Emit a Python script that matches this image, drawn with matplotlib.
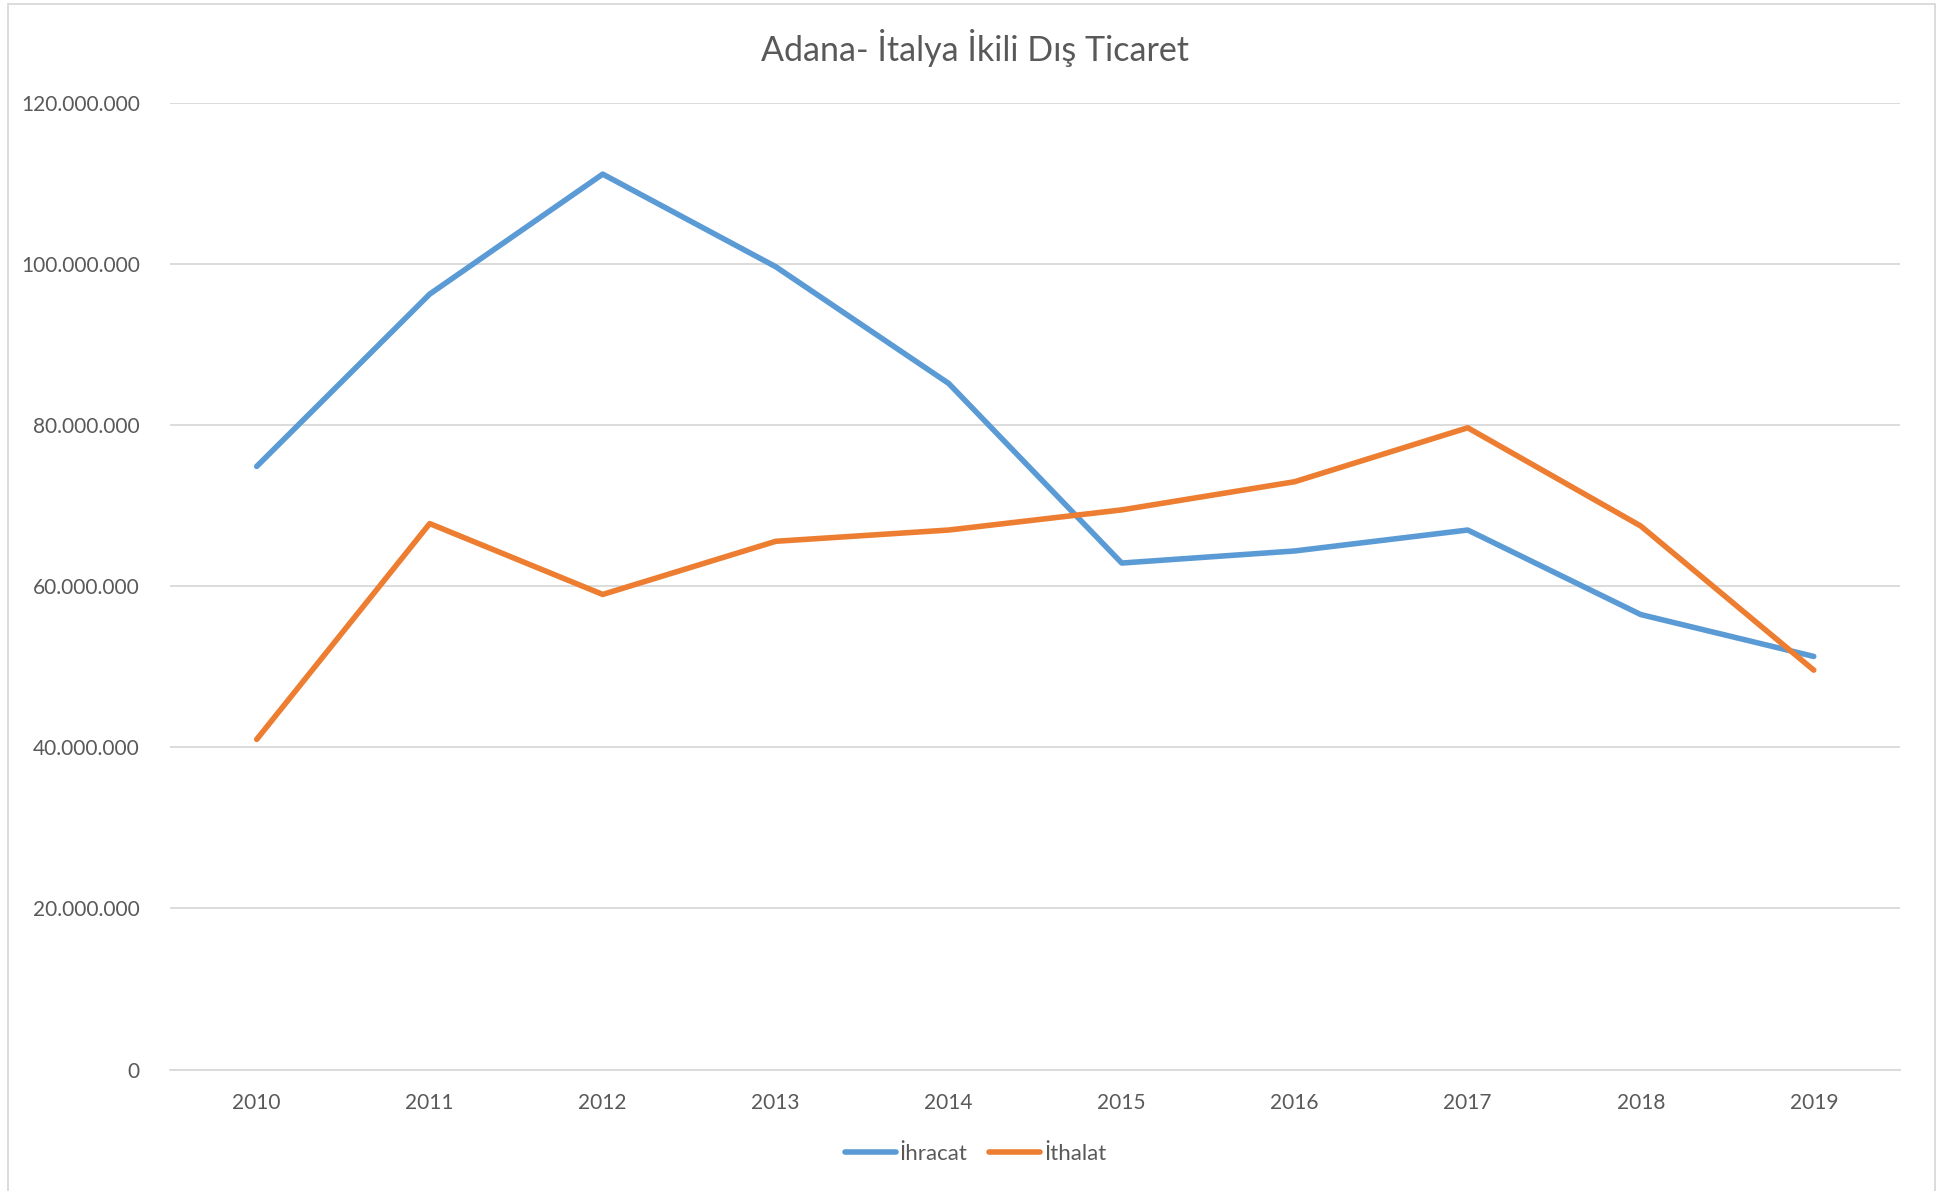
import matplotlib
matplotlib.use("Agg")
import matplotlib.pyplot as plt
from matplotlib.ticker import FuncFormatter
from matplotlib.patches import Rectangle

years = ["2010", "2011", "2012", "2013", "2014", "2015", "2016", "2017", "2018", "2019"]
ihracat = [74.9e6, 96.3e6, 111.2e6, 99.7e6, 85.2e6, 62.9e6, 64.4e6, 67.0e6, 56.5e6, 51.3e6]
ithalat = [41.0e6, 67.8e6, 59.0e6, 65.6e6, 67.0e6, 69.5e6, 73.0e6, 79.7e6, 67.5e6, 49.6e6]
yticks = [0, 20e6, 40e6, 60e6, 80e6, 100e6, 120e6]

plt.rcParams['font.family'] = ['Lato', 'DejaVu Sans']
txt = '#595959'

fig = plt.figure(figsize=(19.43, 11.91), dpi=100)
ax = fig.add_axes([0.0876, 0.102, 0.978 - 0.0876, 0.9133 - 0.102])

x = list(range(len(years)))
ax.plot(x, ihracat, color='#5B9BD5', lw=4.0, label='İhracat', solid_capstyle='round')
ax.plot(x, ithalat, color='#ED7D31', lw=4.0, label='İthalat', solid_capstyle='round')

ax.set_xlim(-0.5, len(years) - 0.5)
ax.set_ylim(0, 120e6)
ax.set_yticks(yticks)
ax.yaxis.set_major_formatter(FuncFormatter(lambda v, p: f"{int(v):,}".replace(",", ".")))
ax.set_xticks(x)
ax.set_xticklabels(years)
ax.grid(axis='y', color='#D9D9D9', lw=1.3)
ax.set_axisbelow(True)
for s in ['top', 'right', 'left']:
    ax.spines[s].set_visible(False)
ax.spines['bottom'].set_color('#D9D9D9')
ax.spines['bottom'].set_linewidth(1.3)
ax.tick_params(axis='both', length=0, labelsize=15, labelcolor=txt)
ax.tick_params(axis='y', pad=22)
ax.tick_params(axis='x', pad=17)

fig.text(0.502, 0.96, 'Adana- İtalya İkili Dış Ticaret', ha='center', va='center',
         fontsize=24.5, color=txt)

leg = fig.legend(loc='center', bbox_to_anchor=(0.502, 0.031), ncol=2, frameon=False,
                 fontsize=16, handlelength=2.3, columnspacing=1.0, handletextpad=0.15)
for t in leg.get_texts():
    t.set_color(txt)

fig.patches.append(Rectangle((0.004, -0.01), 0.992, 1.007, transform=fig.transFigure,
                             fill=False, edgecolor='#D9D9D9', lw=1.3))

fig.savefig('out.png', dpi=100)
